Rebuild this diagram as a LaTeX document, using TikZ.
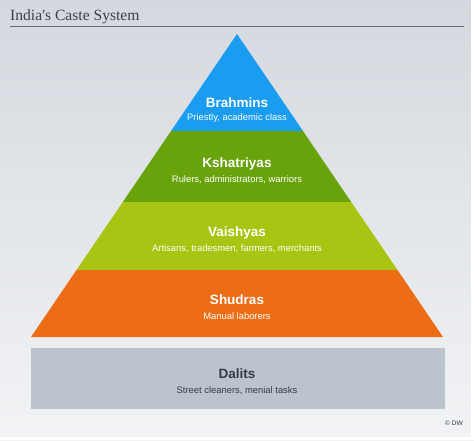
\documentclass[tikz,border=0pt]{standalone}
\usepackage{fontspec}
\setmainfont{Liberation Sans}
\newfontfamily\titlefont{Liberation Serif}
\definecolor{bgtop}{HTML}{D4D9DF}
\definecolor{bgbot}{HTML}{F2F3F5}
\definecolor{cblue}{HTML}{1A9CF0}
\definecolor{cgreen}{HTML}{69A30C}
\definecolor{clime}{HTML}{A9C412}
\definecolor{corange}{HTML}{EC6D16}
\definecolor{cgray}{HTML}{BBC4CC}
\definecolor{ctext}{HTML}{343C46}
\definecolor{ctitle}{HTML}{3C3F44}
\definecolor{cline}{HTML}{6A6E74}
\tikzset{
  head/.style={font=\bfseries\fontsize{13.5}{15}\selectfont, text=white, inner sep=0pt},
  sub/.style={font=\fontsize{9.4}{11}\selectfont, text=white, inner sep=0pt},
}
\begin{document}
\begin{tikzpicture}[x=1pt,y=-1pt]
\useasboundingbox (0,0) rectangle (474,440);
\shade[top color=bgtop, bottom color=bgbot] (0,0) rectangle (474,440);
\fill[white] (0,437) rectangle (474,440);
\fill[white] (471,0) rectangle (474,440);
% title
\node[anchor=base west, inner sep=0pt, text=ctitle, font=\titlefont\fontsize{15.6}{17}\selectfont] (title) at (10,20) {India's Caste System};
\draw[cline, line width=0.8pt] (10,26) -- (464,26);
% pyramid bands
\fill[cblue] (237,34) -- (302.95,131) -- (171.05,131) -- cycle;
\fill[cgreen] (171.05,131) -- (302.95,131) -- (351.2,202) -- (122.8,202) -- cycle;
\fill[clime] (122.8,202) -- (351.2,202) -- (397.5,270) -- (76.5,270) -- cycle;
\fill[corange] (76.5,270) -- (397.5,270) -- (443,337) -- (31,337) -- cycle;
\fill[cgray] (31,348) rectangle (445,409);
% labels
\node[head] (brahmins) at (237,103) {Brahmins};
\node[sub] (brahminsd) at (237,118) {Priestly, academic class};
\node[head] (kshatriyas) at (237,164) {Kshatriyas};
\node[sub] (kshatriyasd) at (237,180) {Rulers, administrators, warriors};
\node[head] (vaishyas) at (237,233) {Vaishyas};
\node[sub] (vaishyasd) at (237,249) {Artisans, tradesmen, farmers, merchants};
\node[head] (shudras) at (237,300) {Shudras};
\node[sub] (shudrasd) at (237,316) {Manual laborers};
\node[head, text=ctext] (dalits) at (237,374) {Dalits};
\node[sub, text=ctext] (dalitsd) at (237,391) {Street cleaners, menial tasks};
\node[anchor=east, inner sep=0pt, text=ctext, font=\fontsize{6.6}{7}\selectfont] (dw) at (463,423) {© DW};
\end{tikzpicture}
\end{document}
